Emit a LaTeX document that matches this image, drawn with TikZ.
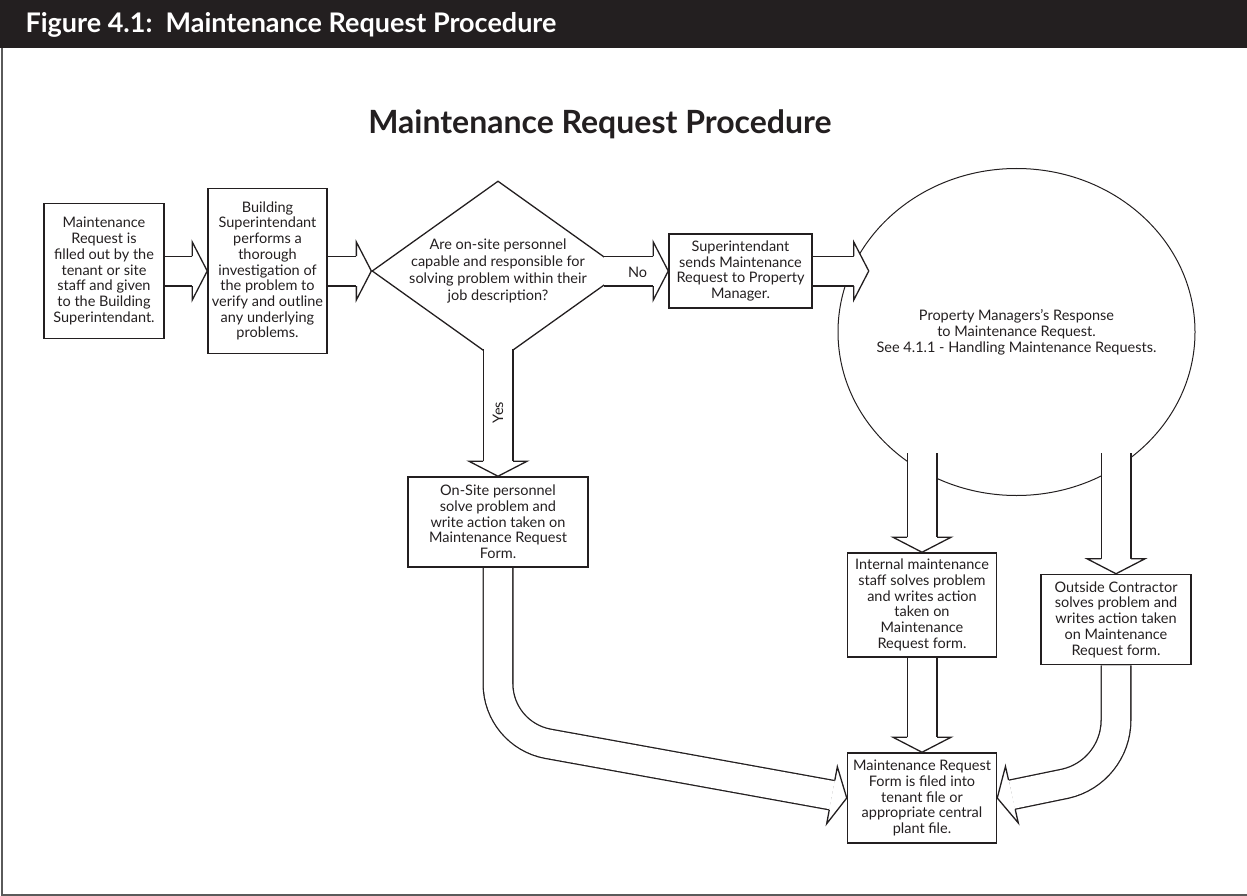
\documentclass[tikz,border=0pt]{standalone}
\usepackage{fontspec}
\setmainfont{Lato}
\usetikzlibrary{shapes.geometric,calc}
\pgfdeclarelayer{bg}
\pgfdeclarelayer{mid}
\pgfsetlayers{bg,mid,main}
\definecolor{barclr}{RGB}{35,31,32}
\definecolor{inkclr}{RGB}{35,31,32}
\definecolor{frameclr}{RGB}{90,90,90}
\tikzset{
  stepbox/.style={draw=inkclr, line width=1.5pt, align=center, inner sep=2pt,
    text=inkclr, font=\fontsize{14.5}{15.7}\selectfont},
  shaft/.style={draw=inkclr, line width=1.3pt, double=white, double distance=28.4pt},
  tiphead/.style={draw=inkclr, fill=white, line width=1.3pt},
}
\newcommand{\blockhead}[2]{\filldraw[tiphead, shift={(#1)}, rotate=#2]
  (-15,-15) -- (-15,-29) -- (0,0) -- (-15,29) -- (-15,15);}

\begin{document}
\begin{tikzpicture}[x=1pt, y=-1pt]
\useasboundingbox (0,0) rectangle (1247,896);
\fill[barclr] (0,0) rectangle (1247,48);
\draw[frameclr, line width=2pt] (1.5,48) -- (1.5,894.5) -- (1247,894.5);
\node[anchor=base west, text=white, font=\fontsize{27}{30}\selectfont\bfseries] (hdrtxt) at (22,33)
  {Figure 4.1:\ \ Maintenance Request Procedure};
\node[anchor=base, text=inkclr, font=\fontsize{32}{36}\selectfont\bfseries] (title) at (600,134)
  {Maintenance Request Procedure};

% decision and response shapes sit under the arrows
\begin{pgfonlayer}{bg}
\node[diamond, draw=inkclr, line width=1.3pt, minimum width=252pt, minimum height=180pt,
  inner sep=-40pt, align=center, text=inkclr, font=\fontsize{14.5}{17}\selectfont] (dec) at (498,271)
  {Are on-site personnel\\capable and responsible for\\solving problem within their\\job description?};
\node[ellipse, draw=inkclr, line width=1pt, minimum width=357pt, minimum height=327pt,
  inner sep=-40pt, align=center, text=inkclr, font=\fontsize{14.5}{16}\selectfont] (resp) at (1016.5,332)
  {Property Managers's Response\\to Maintenance Request.\\See 4.1.1 - Handling Maintenance Requests.};
\end{pgfonlayer}

\node[stepbox, minimum width=120pt, minimum height=135pt] (req) at (104,271)
  {Maintenance\\Request is\\filled out by the\\tenant or site\\staff and given\\to the Building\\Superintendant.};
\node[stepbox, minimum width=119pt, minimum height=165pt] (inv) at (267.5,271)
  {Building\\Superintendant\\performs a\\thorough\\investigation of\\the problem to\\verify and outline\\any underlying\\problems.};
\node[stepbox, minimum width=143pt, minimum height=74pt] (send) at (740.5,271)
  {Superintendant\\sends Maintenance\\Request to Property\\Manager.};
\node[stepbox, minimum width=180pt, minimum height=90pt] (onsite) at (498,522)
  {On-Site personnel\\solve problem and\\write action taken on\\Maintenance Request\\Form.};
\node[stepbox, minimum width=149pt, minimum height=104pt] (intern) at (922,605)
  {Internal maintenance\\staff solves problem\\and writes action\\taken on\\Maintenance\\Request form.};
\node[stepbox, minimum width=150pt, minimum height=90pt] (outside) at (1116,619.5)
  {Outside Contractor\\solves problem and\\writes action taken\\on Maintenance\\Request form.};
\node[stepbox, minimum width=149pt, minimum height=90pt] (filed) at (922,798)
  {Maintenance Request\\Form is filed into\\tenant file or\\appropriate central\\plant file.};
\coordinate (resptip) at ($(send.east)+(56,0)$);

% block arrows
\begin{pgfonlayer}{mid}
\draw[shaft] (req.east) -- ($(inv.west)+(-15,0)$);
\blockhead{inv.west}{0}
\draw[shaft] (inv.east) -- ($(dec.west)+(-15,0)$);
\blockhead{dec.west}{0}
\draw[shaft] ($(dec.east)+(-21,0)$) -- ($(send.west)+(-15,0)$);
\blockhead{send.west}{0}
\draw[shaft] (send.east) -- ($(resptip)+(-15,0)$);
\blockhead{resptip}{0}
\draw[shaft] ($(dec.south)+(0,-13)$) -- ($(onsite.north)+(0,-15)$);
\blockhead{onsite.north}{-90}
\draw[shaft] ($(intern.north |- resp.south)+(0,-43)$) -- ($(intern.north)+(0,-15)$);
\blockhead{intern.north}{-90}
\draw[shaft] ($(outside.north |- resp.south)+(0,-43)$) -- ($(outside.north)+(0,-15)$);
\blockhead{outside.north}{-90}
\draw[shaft] (intern.south) -- ($(filed.north)+(0,-15)$);
\blockhead{filed.north}{-90}
\draw[shaft] (onsite.south) -- ++(0,116) .. controls +(0,29.4) and +(-28.9,-5.4) .. ++(49.8,60)
  -- ($(filed.west)+(-14.7,-2.8)$);
\blockhead{filed.west}{-10.6}
\draw[shaft] (outside.south) -- ++(0,55) .. controls +(0,30.3) and +(29.6,-6.7) .. ++(-50.6,63.4)
  -- ($(filed.east)+(14.6,-3.3)$);
\blockhead{filed.east}{-167.2}
\end{pgfonlayer}

\node[text=inkclr, font=\fontsize{14.5}{16}\selectfont] (nolbl) at ($(dec.east)+(13,1)$) {No};
\node[rotate=90, text=inkclr, font=\fontsize{14.5}{16}\selectfont] (yeslbl) at ($(dec.south)+(0,51)$) {Yes};
\end{tikzpicture}
\end{document}
